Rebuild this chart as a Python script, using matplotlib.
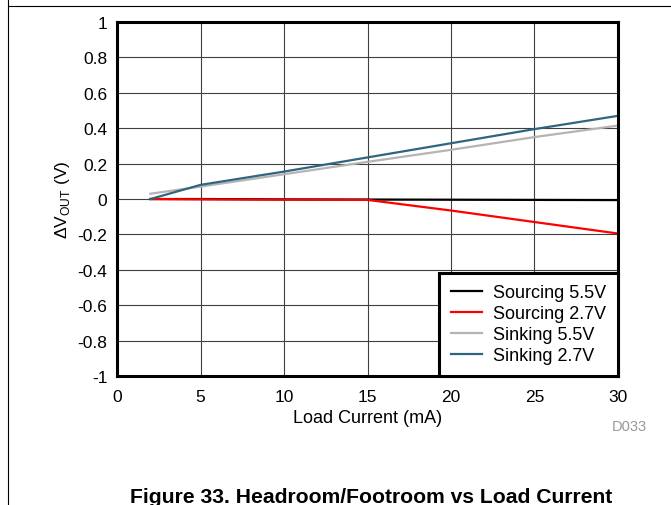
import matplotlib
matplotlib.use('Agg')
import matplotlib.pyplot as plt
from matplotlib.lines import Line2D

plt.rcParams['font.family'] = ['Liberation Sans', 'DejaVu Sans']

# load current (mA) and output deltas (V)
current = [2, 5, 10, 15, 20, 25, 30]
sourcing_55 = [0.0, 0.0, -0.002, -0.003, -0.004, -0.005, -0.006]
sourcing_27 = [0.0, -0.002, -0.004, -0.005, -0.065, -0.13, -0.195]
sinking_55 = [0.03, 0.07, 0.14, 0.21, 0.278, 0.35, 0.415]
sinking_27 = [0.0, 0.08, 0.155, 0.235, 0.315, 0.395, 0.47]

series = [
    ('Sourcing 5.5V', sourcing_55, 'black'),
    ('Sourcing 2.7V', sourcing_27, '#ff0000'),
    ('Sinking 5.5V', sinking_55, '#b4b4b4'),
    ('Sinking 2.7V', sinking_27, '#2e6680'),
]

fig = plt.figure(figsize=(6.71, 5.06), dpi=100)
ax = fig.add_axes([0.1744, 0.2549, 0.7466, 0.6996])

for label, vals, color in series:
    ax.plot(current, vals, color=color, lw=1.6, label=label)

ax.set_xlim(0, 30)
ax.set_ylim(-1, 1)
ax.set_xticks(range(0, 31, 5))
ax.set_yticks([-1, -0.8, -0.6, -0.4, -0.2, 0, 0.2, 0.4, 0.6, 0.8, 1])
ax.set_yticklabels(['-1', '-0.8', '-0.6', '-0.4', '-0.2', '0', '0.2', '0.4', '0.6', '0.8', '1'])
ax.grid(True, color='#404040', lw=0.8)
ax.set_axisbelow(True)
ax.tick_params(length=0, labelsize=12.5)
ax.tick_params(axis='x', pad=9)
ax.tick_params(axis='y', pad=7)
for s in ax.spines.values():
    s.set_linewidth(2.2)

ax.set_xlabel('Load Current (mA)', fontsize=13, labelpad=4)
ax.set_ylabel('ΔV$_{\\mathregular{OUT}}$ (V)', fontsize=12.5, labelpad=4)

leg = ax.legend(loc='lower right', borderaxespad=0, fancybox=False,
                edgecolor='black', framealpha=1, fontsize=13,
                handlelength=1.75, handletextpad=0.6, labelspacing=0.22,
                borderpad=0.65)
leg.get_frame().set_linewidth(2.2)

fig.text(0.9385, 0.148, 'D033', fontsize=10.5, color='#999999', ha='center')
fig.text(0.553, 0.006, 'Figure 33. Headroom/Footroom vs Load Current',
         fontsize=15.2, fontweight='bold', ha='center')

# outer frame lines of the datasheet figure box
fig.add_artist(Line2D([0.0119, 1.0], [0.9862, 0.9862], color='black', lw=0.8))
fig.add_artist(Line2D([0.0119, 0.0119], [0.0, 1.0], color='black', lw=0.8))

fig.savefig('out.png', dpi=100)
plt.close()
